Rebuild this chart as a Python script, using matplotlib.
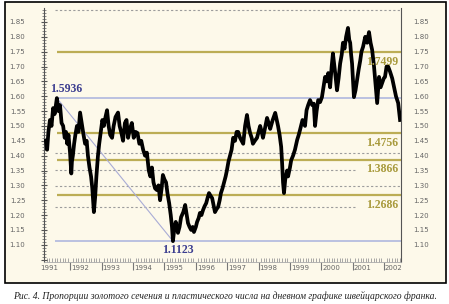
import matplotlib
matplotlib.use("Agg")
import matplotlib.pyplot as plt
from matplotlib.patches import Rectangle
from matplotlib.ticker import MultipleLocator

# USD/CHF daily (year, price)
years = [1991.22, 1991.26, 1991.30, 1991.35, 1991.40, 1991.45, 1991.50, 1991.57,
         1991.62, 1991.67, 1991.72, 1991.77, 1991.82, 1991.86, 1991.90, 1991.94,
         1991.99, 1992.03, 1992.05, 1992.08, 1992.12, 1992.16, 1992.21, 1992.26,
         1992.31, 1992.36, 1992.42, 1992.47, 1992.52, 1992.56, 1992.61, 1992.66,
         1992.70, 1992.75, 1992.79, 1992.83, 1992.88, 1992.92, 1992.97, 1993.02,
         1993.07, 1993.12, 1993.17, 1993.22, 1993.27, 1993.33, 1993.38, 1993.44,
         1993.52, 1993.57, 1993.62, 1993.68, 1993.74, 1993.79, 1993.84, 1993.90,
         1993.96, 1994.02, 1994.08, 1994.14, 1994.20, 1994.26, 1994.32, 1994.38,
         1994.44, 1994.50, 1994.55, 1994.60, 1994.65, 1994.70, 1994.76, 1994.81,
         1994.86, 1994.91, 1994.95, 1995.00, 1995.05, 1995.10, 1995.15, 1995.20,
         1995.24, 1995.27, 1995.31, 1995.36, 1995.43, 1995.48, 1995.53, 1995.60,
         1995.66, 1995.71, 1995.75, 1995.80, 1995.85, 1995.90, 1995.94, 1996.00,
         1996.04, 1996.09, 1996.13, 1996.18, 1996.23, 1996.28, 1996.33, 1996.38,
         1996.42, 1996.47, 1996.52, 1996.57, 1996.61, 1996.66, 1996.71, 1996.76,
         1996.80, 1996.85, 1996.90, 1996.95, 1996.99, 1997.04, 1997.09, 1997.14,
         1997.19, 1997.25, 1997.30, 1997.35, 1997.41, 1997.46, 1997.51, 1997.57,
         1997.63, 1997.68, 1997.73, 1997.78, 1997.82, 1997.88, 1997.95, 1998.00,
         1998.05, 1998.10, 1998.14, 1998.20, 1998.27, 1998.32, 1998.37, 1998.45,
         1998.53, 1998.58, 1998.62, 1998.67, 1998.72, 1998.75, 1998.78, 1998.81,
         1998.85, 1998.91, 1998.94, 1999.00, 1999.04, 1999.10, 1999.16, 1999.23,
         1999.28, 1999.32, 1999.40, 1999.48, 1999.53, 1999.58, 1999.64, 1999.71,
         1999.76, 1999.80, 1999.85, 1999.90, 1999.96, 2000.02, 2000.07, 2000.12,
         2000.17, 2000.22, 2000.28, 2000.33, 2000.37, 2000.44, 2000.50, 2000.55,
         2000.60, 2000.65, 2000.69, 2000.74, 2000.79, 2000.85, 2000.89, 2000.92,
         2000.95, 2000.98, 2001.01, 2001.04, 2001.09, 2001.14, 2001.19, 2001.24,
         2001.28, 2001.33, 2001.40, 2001.46, 2001.52, 2001.57, 2001.62, 2001.68,
         2001.73, 2001.78, 2001.84, 2001.89, 2001.94, 2001.99, 2002.03, 2002.08,
         2002.13, 2002.19, 2002.26, 2002.32, 2002.38, 2002.45, 2002.51]
prices = [1.45, 1.42, 1.48, 1.52, 1.50, 1.56, 1.54, 1.5936,
          1.55, 1.57, 1.51, 1.50, 1.46, 1.48, 1.44, 1.47,
          1.41, 1.34, 1.38, 1.40, 1.44, 1.47, 1.50, 1.48,
          1.545, 1.51, 1.47, 1.44, 1.45, 1.40, 1.36, 1.33,
          1.29, 1.21, 1.26, 1.33, 1.40, 1.44, 1.48, 1.52,
          1.50, 1.53, 1.553, 1.50, 1.47, 1.46, 1.50, 1.53,
          1.545, 1.50, 1.48, 1.45, 1.51, 1.52, 1.46, 1.49,
          1.51, 1.46, 1.48, 1.476, 1.44, 1.45, 1.42, 1.40,
          1.41, 1.35, 1.33, 1.36, 1.31, 1.29, 1.284, 1.30,
          1.25, 1.29, 1.335, 1.32, 1.31, 1.27, 1.24, 1.20,
          1.16, 1.1123, 1.15, 1.177, 1.14, 1.16, 1.193, 1.21,
          1.234, 1.20, 1.173, 1.16, 1.15, 1.16, 1.143, 1.16,
          1.177, 1.19, 1.207, 1.20, 1.217, 1.23, 1.24, 1.26,
          1.274, 1.265, 1.257, 1.23, 1.21, 1.22, 1.227, 1.25,
          1.274, 1.29, 1.31, 1.33, 1.35, 1.38, 1.40, 1.42,
          1.46, 1.45, 1.48, 1.48, 1.46, 1.45, 1.44, 1.50,
          1.537, 1.50, 1.476, 1.46, 1.44, 1.45, 1.46, 1.48,
          1.50, 1.48, 1.46, 1.49, 1.527, 1.51, 1.49, 1.52,
          1.544, 1.52, 1.50, 1.47, 1.43, 1.375, 1.31, 1.274,
          1.32, 1.35, 1.33, 1.36, 1.385, 1.40, 1.42, 1.453,
          1.47, 1.486, 1.52, 1.50, 1.553, 1.57, 1.587, 1.57,
          1.575, 1.50, 1.55, 1.587, 1.58, 1.597, 1.63, 1.665,
          1.65, 1.678, 1.63, 1.70, 1.744, 1.68, 1.62, 1.66,
          1.71, 1.74, 1.78, 1.76, 1.80, 1.83, 1.79, 1.78,
          1.74, 1.71, 1.65, 1.597, 1.62, 1.655, 1.69, 1.72,
          1.75, 1.766, 1.80, 1.78, 1.816, 1.78, 1.756, 1.70,
          1.64, 1.577, 1.665, 1.63, 1.645, 1.66, 1.665, 1.70,
          1.70, 1.683, 1.66, 1.63, 1.60, 1.577, 1.52]

golden_levels = [1.7499, 1.4756, 1.3866, 1.2686]
golden_labels = ["1.7499", "1.4756", "1.3866", "1.2686"]
swing_high = (1991.57, 1.5936)
swing_low = (1995.27, 1.1123)
fib_long = [1.8910, 1.4097, 1.2962]
fib_short = [1.3530, 1.2259]
year_labels = [str(y) for y in range(1991, 2003)]
caption = ("Рис. 4. Пропорции золотого сечения и пластического числа "
           "на дневном графике швейцарского франка.")

cream = "#fdf9ea"
gold = "#bcad55"
gold_txt = "#a89a3c"
blue = "#b5bde0"
blue_txt = "#3b3d8f"
grey = "#9c9c9c"

fig = plt.figure(figsize=(4.49, 3.04), dpi=100)
fig.patch.set_facecolor("white")
fig.add_artist(Rectangle((5 / 449, 1 - 283 / 304), 441 / 449, 281 / 304,
                         transform=fig.transFigure, facecolor=cream,
                         edgecolor="black", lw=1.2, zorder=0))

ax = fig.add_axes([44 / 449, 1 - 262 / 304, 357 / 449, 254 / 304])
ax.set_facecolor(cream)
xmin, xmax = 1991.16, 2002.54
ymin, ymax = 1.042, 1.897
ax.set_xlim(xmin, xmax)
ax.set_ylim(ymin, ymax)

start = 1991.52
for lv in fib_long:
    ax.hlines(lv, start, xmax, color=grey, lw=0.8, linestyles=(0, (2, 2)), zorder=1)
for lv in fib_short:
    ax.hlines(lv, start, 2001.14, color=grey, lw=0.8, linestyles=(0, (2, 2)), zorder=1)
for lv in golden_levels:
    ax.hlines(lv, start + 0.05, xmax, color=gold, lw=1.6, zorder=1)
for lv in (swing_high[1], swing_low[1]):
    ax.hlines(lv, start, xmax, color=blue, lw=1.3, zorder=1)
ax.plot([swing_high[0], swing_low[0]], [swing_high[1], swing_low[1]],
        color="#a9acd6", lw=0.8, zorder=1)

ax.plot(years, prices, color="black", lw=2.7, solid_joinstyle="round", zorder=3)

for lv, lab in zip(golden_levels, golden_labels):
    ax.text(2002.45, lv - 0.013, lab, ha="right", va="top", color=gold_txt,
            fontsize=8.5, fontweight="bold", family="Liberation Serif", zorder=4)
ax.text(1991.35, 1.603, "1.5936", ha="left", va="bottom", color=blue_txt,
        fontsize=8.5, fontweight="bold", family="Liberation Serif", zorder=4)
ax.text(1994.92, 1.104, "1.1123", ha="left", va="top", color=blue_txt,
        fontsize=8.5, fontweight="bold", family="Liberation Serif", zorder=4)

# axes styling
ax.spines["top"].set_visible(False)
for s in ("left", "right"):
    ax.spines[s].set_color("#555555")
    ax.spines[s].set_linewidth(0.8)
ax.spines["bottom"].set_color("#aaaaaa")
ax.spines["bottom"].set_linewidth(0.6)

fmt = plt.FuncFormatter(lambda v, p: f"{v:.2f}" if 1.09 < v < 1.86 else "")
ax.yaxis.set_major_locator(MultipleLocator(0.05))
ax.yaxis.set_minor_locator(MultipleLocator(0.01))
ax.yaxis.set_ticks_position("both")
ax.yaxis.set_major_formatter(fmt)
ax.tick_params(axis="y", which="major", length=4, direction="inout",
               color="#555555", labelsize=5, labelcolor="#666666", pad=11.5)
ax.tick_params(axis="y", which="minor", length=2.5, direction="inout",
               color="#777777")

# right-hand price labels sit closer to the spine
ax2 = ax.twinx()
ax2.set_ylim(ymin, ymax)
ax2.patch.set_visible(False)
for s in ax2.spines.values():
    s.set_visible(False)
ax2.yaxis.set_major_locator(MultipleLocator(0.05))
ax2.yaxis.set_major_formatter(fmt)
ax2.tick_params(axis="y", length=0, labelsize=5, labelcolor="#666666", pad=9)

ax.set_xticks(range(1992, 2003))
ax.set_xticklabels([])
ax.xaxis.set_minor_locator(MultipleLocator(1 / 12))
ax.tick_params(axis="x", which="major", length=6, direction="out", color="#777777")
ax.tick_params(axis="x", which="minor", length=3, direction="in", color="#999999")
for y, lab in zip(range(1991, 2003), year_labels):
    ax.text(y + 0.03, -0.025, lab, transform=ax.get_xaxis_transform(),
            ha="left", va="center", fontsize=5, color="#666666", clip_on=False)

fig.text(0.5, 1 - 296 / 304, caption, ha="center", va="center",
         fontsize=6.9, style="italic", family="Liberation Serif", color="#222222")

fig.savefig("out.png", dpi=100)
